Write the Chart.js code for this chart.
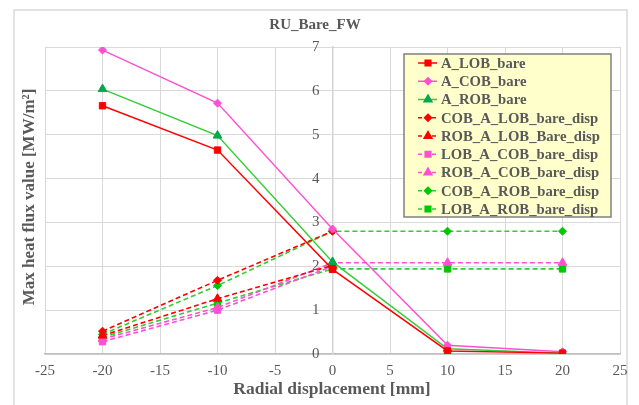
<!DOCTYPE html>
<html>
<head>
<meta charset="utf-8">
<script src="https://cdn.jsdelivr.net/npm/chart.js@4/dist/chart.umd.min.js"></script>
<style>
body { margin: 0; background: #fff; }
</style>
</head>
<body>
<canvas id="chart" width="639" height="405"></canvas>
<script>
// x positions (radial displacement, mm)
var xValues = [-20, -10, 0, 10, 20];

// solid series
var aLobBare = [5.66, 4.65, 1.93, 0.07, 0.02];
var aCobBare = [6.93, 5.72, 2.85, 0.20, 0.05];
var aRobBare = [6.04, 4.98, 2.10, 0.12, 0.02];

// dashed series
var cobALobDisp = [0.52, 1.68, 2.80, null, null];
var robALobDisp = [0.42, 1.26, 2.02, null, null];
var lobACobDisp = [0.28, 1.00, 2.00, null, null];
var robACobDisp = [0.34, 1.06, 2.08, 2.08, 2.08];
var cobARobDisp = [0.45, 1.56, 2.80, 2.80, 2.80];
var lobARobDisp = [0.38, 1.16, 1.94, 1.94, 1.94];

var xTicks = [-25, 25, 5];
var yTicks = [0, 7, 1];

var RED = '#ff0000';
var PINK = '#ff4fd2';
var GREEN = '#33cc33';
var DGREEN = '#00a84f';
var SQGREEN = '#00c800';
var TXT = '#595959';
var SERIF = '"Liberation Serif", "DejaVu Serif", serif';

function pts(vals) {
  return xValues.map(function (x, i) { return { x: x, y: vals[i] }; });
}

function series(label, vals, color, style, dashed, ptColor, radius) {
  return {
    label: label,
    data: pts(vals),
    borderColor: color,
    backgroundColor: ptColor || color,
    pointBackgroundColor: ptColor || color,
    pointBorderColor: ptColor || color,
    pointStyle: style,
    pointRadius: radius || 4,
    pointBorderWidth: 1,
    borderWidth: dashed ? 1.6 : 1.4,
    borderDash: dashed ? [5, 3] : [],
    tension: 0,
    spanGaps: false
  };
}

var datasets = [
  series('A_LOB_bare', aLobBare, RED, 'rect', false, RED, 4.5),
  series('A_COB_bare', aCobBare, PINK, 'rectRot', false, PINK, 4),
  series('A_ROB_bare', aRobBare, GREEN, 'triangle', false, DGREEN, 5),
  series('COB_A_LOB_bare_disp', cobALobDisp, RED, 'rectRot', true, RED, 4),
  series('ROB_A_LOB_Bare_disp', robALobDisp, RED, 'triangle', true, RED, 5),
  series('LOB_A_COB_bare_disp', lobACobDisp, PINK, 'rect', true, PINK, 4.5),
  series('ROB_A_COB_bare_disp', robACobDisp, PINK, 'triangle', true, PINK, 5),
  series('COB_A_ROB_bare_disp', cobARobDisp, GREEN, 'rectRot', true, SQGREEN, 4),
  series('LOB_A_ROB_bare_disp', lobARobDisp, GREEN, 'rect', true, SQGREEN, 4.5)
];

// frame, titles, y tick labels beside the x=0 axis, legend box
var decor = {
  id: 'decor',
  beforeDraw: function (chart) {
    var ctx = chart.ctx;
    ctx.save();
    ctx.fillStyle = '#fff';
    ctx.fillRect(0, 0, chart.width, chart.height);
    ctx.strokeStyle = '#d9d9d9';
    ctx.lineWidth = 1.5;
    ctx.strokeRect(14, 10, 613, 410);
    ctx.restore();
  },
  afterDraw: function (chart) {
    var ctx = chart.ctx;
    var xs = chart.scales.x, ys = chart.scales.y;
    ctx.save();
    ctx.fillStyle = TXT;
    ctx.textAlign = 'center';
    ctx.textBaseline = 'middle';
    ctx.font = 'bold 15px ' + SERIF;
    ctx.fillText('RU_Bare_FW', 315, 25);

    ctx.font = 'bold 17.5px ' + SERIF;
    ctx.fillText('Radial displacement [mm]', 332, 389);

    ctx.save();
    ctx.translate(30, 197);
    ctx.rotate(-Math.PI / 2);
    ctx.font = 'bold 17px ' + SERIF;
    ctx.fillText('Max heat flux value [MW/m\u00b2]', 0, 0);
    ctx.restore();

    // y tick labels sit left of the axis at x = 0
    ctx.textAlign = 'right';
    ctx.font = '15px ' + SERIF;
    var ax = xs.getPixelForValue(0);
    ys.ticks.forEach(function (t) {
      ctx.fillText(String(t.value), ax - 13, ys.getPixelForValue(t.value));
    });

    // legend
    var lx = 404, ly = 54, lw = 207, lh = 163;
    ctx.fillStyle = '#ffffcc';
    ctx.fillRect(lx, ly, lw, lh);
    ctx.strokeStyle = '#808080';
    ctx.lineWidth = 1.5;
    ctx.strokeRect(lx, ly, lw, lh);

    ctx.font = 'bold 14.7px ' + SERIF;
    ctx.textAlign = 'left';
    datasets.forEach(function (ds, i) {
      var y = 63 + i * 18.25;
      ctx.strokeStyle = ds.borderColor;
      ctx.lineWidth = 1.5;
      ctx.setLineDash(ds.borderDash.length ? [4, 3] : []);
      ctx.beginPath();
      ctx.moveTo(418, y);
      ctx.lineTo(437, y);
      ctx.stroke();
      ctx.setLineDash([]);
      ctx.fillStyle = ds.pointBackgroundColor;
      ctx.strokeStyle = ds.pointBorderColor;
      Chart.helpers.drawPoint(ctx, {
        pointStyle: ds.pointStyle,
        radius: ds.pointRadius - 0.5,
        rotation: 0,
        borderWidth: 1
      }, 428, y);
      ctx.fillStyle = TXT;
      ctx.fillText(ds.label, 441, y + 1);
    });
    ctx.restore();
  }
};

var ctx = document.getElementById('chart').getContext('2d');
var myChart = new Chart(ctx, {
  type: 'line',
  data: { datasets: datasets },
  plugins: [decor],
  options: {
    responsive: false,
    devicePixelRatio: 1,
    animation: false,
    layout: { padding: { left: 45, right: 19, top: 47, bottom: 17 } },
    plugins: {
      legend: { display: false },
      title: { display: false },
      tooltip: { enabled: false }
    },
    scales: {
      x: {
        type: 'linear',
        min: xTicks[0],
        max: xTicks[1],
        ticks: { stepSize: xTicks[2], color: TXT, padding: 8, font: { family: SERIF, size: 15 } },
        grid: { color: '#d9d9d9', drawTicks: false },
        border: { color: '#bfbfbf', width: 1.5 }
      },
      y: {
        type: 'linear',
        min: yTicks[0],
        max: yTicks[1],
        position: { x: 0 },
        ticks: { display: false, stepSize: yTicks[2] },
        grid: { color: '#d9d9d9', drawTicks: false },
        border: { color: '#d4d4d4', width: 1.5 }
      }
    }
  }
});
</script>
</body>
</html>
